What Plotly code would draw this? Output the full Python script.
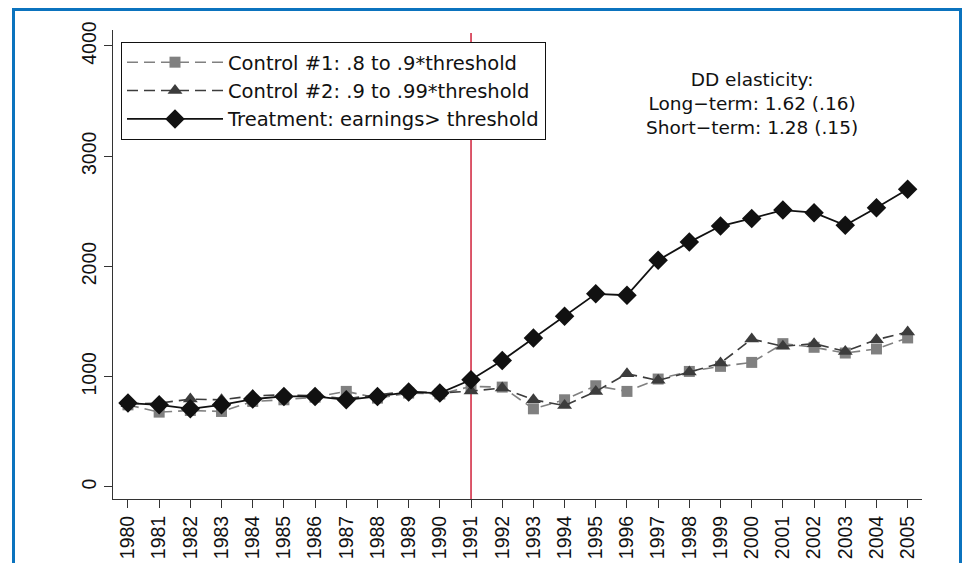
import plotly.graph_objects as go

# ---- data -------------------------------------------------------------
years = list(range(1980, 2006))
year_labels = [str(y) for y in years]

control1 = [745, 679, 694, 685, 776, 791, 815, 867, 806, 852, 843, 912, 906,
            709, 791, 918, 867, 979, 1048, 1094, 1130, 1300, 1267, 1215, 1252, 1352]
control2 = [755, 760, 797, 791, 827, 836, 827, 800, 836, 867, 852, 870, 897,
            791, 739, 867, 1027, 967, 1042, 1124, 1342, 1276, 1300, 1230, 1336, 1406]
treatment = [761, 745, 709, 745, 797, 821, 821, 791, 821, 861, 852, 973, 1148,
             1352, 1548, 1752, 1739, 2057, 2221, 2367, 2436, 2512, 2488, 2373, 2533, 2700]

series_names = ["Control #1: .8 to .9*threshold",
                "Control #2: .9 to .99*threshold",
                "Treatment: earnings> threshold"]
reform_year = 1991
y_ticks = [0, 1000, 2000, 3000, 4000]
note_lines = ["DD elasticity:", "Long\u2212term: 1.62 (.16)", "Short\u2212term: 1.28 (.15)"]

# ---- layout geometry --------------------------------------------------
W, H = 964, 563
L, R, T, B = 113, 922, 30, 499          # plot area edges in pixels
TICK_FONT = "Liberation Sans, Arial, Helvetica, sans-serif"
TEXT_FONT = "DejaVu Sans, Liberation Sans, Arial, sans-serif"


def px_x(p):
    return (p - L) / (R - L)


def px_y(p):
    return (B - p) / (B - T)


fig = go.Figure()

fig.add_trace(go.Scatter(
    x=years, y=control1, name=series_names[0], mode="lines+markers",
    line=dict(color="#808080", width=1.6, dash="11px,6px"),
    marker=dict(symbol="square", size=11, color="#808080"),
))
fig.add_trace(go.Scatter(
    x=years, y=control2, name=series_names[1], mode="lines+markers",
    line=dict(color="#3c3c3c", width=1.6, dash="11px,6px"),
    marker=dict(symbol="triangle-up", size=13, color="#3c3c3c"),
))
fig.add_trace(go.Scatter(
    x=years, y=treatment, name=series_names[2], mode="lines+markers",
    line=dict(color="#111111", width=1.8),
    marker=dict(symbol="diamond", size=15, color="#111111"),
))

# vertical reference line at the reform year
fig.add_shape(type="line", xref="x", yref="paper",
              x0=reform_year, x1=reform_year, y0=0, y1=px_y(33),
              line=dict(color="#d0203a", width=1.5), layer="below")

# blue frame around the whole graphic
fig.add_shape(type="rect", xref="paper", yref="paper",
              x0=px_x(13.5), x1=px_x(960.5), y0=px_y(575), y1=px_y(9.5),
              line=dict(color="#0b73be", width=3), fillcolor="rgba(0,0,0,0)")

# elasticity note, one block of three centred lines
fig.add_annotation(text="<br>".join(note_lines), xref="paper", yref="paper",
                   x=px_x(752), y=px_y(104), xanchor="center", yanchor="middle",
                   align="center", showarrow=False,
                   font=dict(family=TEXT_FONT, size=18.5, color="#111"))

fig.update_layout(
    width=W, height=H,
    margin=dict(l=L, r=W - R, t=T, b=H - B, pad=0, autoexpand=False),
    paper_bgcolor="white", plot_bgcolor="white",
    font=dict(family=TICK_FONT, size=17, color="#111"),
    showlegend=True,
    legend=dict(x=px_x(121), y=px_y(42), xanchor="left", yanchor="top",
                bgcolor="white", bordercolor="#111", borderwidth=1,
                font=dict(family=TEXT_FONT, size=19.5, color="#111"),
                itemwidth=96, tracegroupgap=0),
    xaxis=dict(range=[reform_year - 11 - 0.48, 2005.46], automargin=False,
               tickmode="array", tickvals=years, ticktext=year_labels,
               tickangle=-90, ticks="outside", ticklen=8, tickcolor="#333",
               showline=True, linecolor="#333", linewidth=1,
               showgrid=False, zeroline=False,
               tickfont=dict(family=TICK_FONT, size=19.5, color="#111")),
    yaxis=dict(range=[-109, 4145], automargin=False,
               tickmode="array", tickvals=y_ticks,
               tickangle=-90, ticks="outside", ticklen=8, tickcolor="#333",
               showline=True, linecolor="#333", linewidth=1,
               showgrid=False, zeroline=False,
               tickfont=dict(family=TICK_FONT, size=19.5, color="#111")),
)

fig.write_html("out.html")
